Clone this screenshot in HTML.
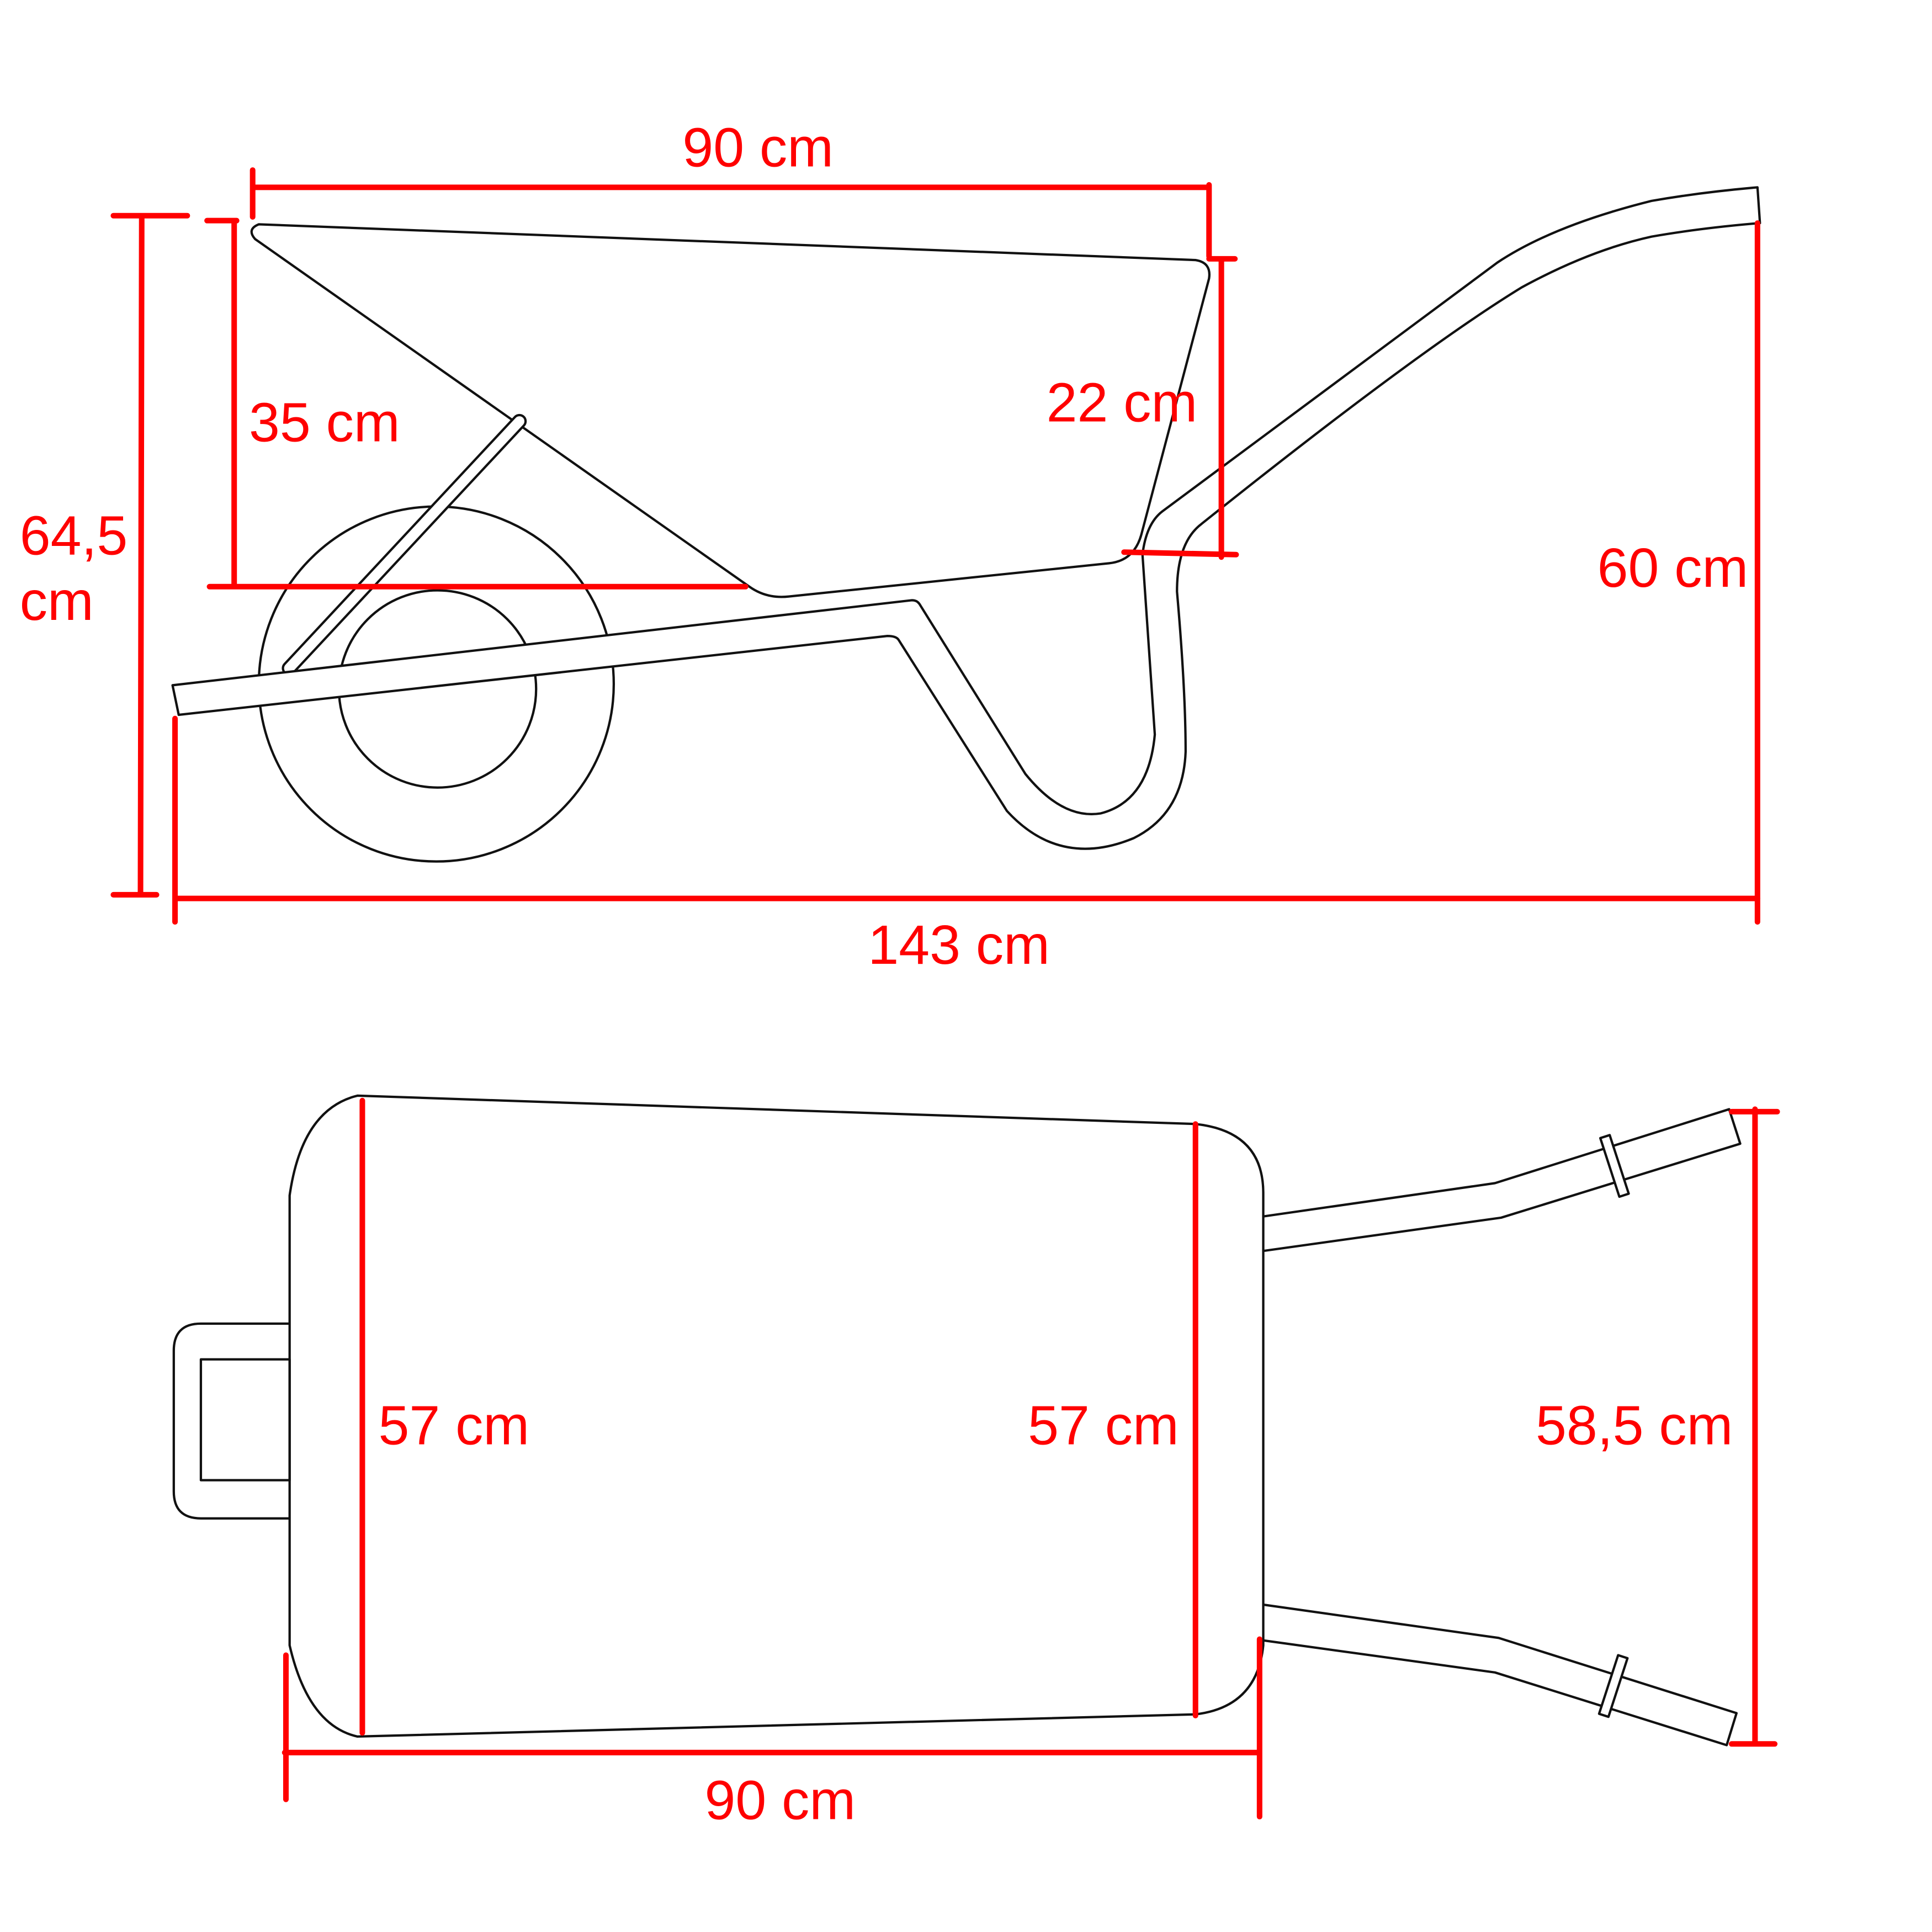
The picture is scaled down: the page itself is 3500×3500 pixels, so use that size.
<!DOCTYPE html>
<html><head><style>html,body{margin:0;padding:0;background:#fff}svg{display:block}</style></head>
<body>
<svg width="3500" height="3500" viewBox="0 0 1567.6 1567.6" xmlns="http://www.w3.org/2000/svg">
<rect width="1568" height="1568" fill="#fff"/>
<g fill="none" stroke="#111" stroke-width="1.9" stroke-linejoin="round">
  <circle cx="354" cy="555" r="144" fill="#fff"/>
  <circle cx="355" cy="559" r="80" fill="#fff"/>
  <path d="M210,182 L970,211 Q983,213 981,226 L926,434 Q920,455 900,457 L640,484 Q622,486 608,476 L207,194 Q200,186 210,182 Z" fill="#fff"/>
  <g transform="translate(328,442) rotate(-47)"><rect x="-142" y="-5" width="284" height="10" rx="5" fill="#fff"/></g>
  <path d="M140,556 L740,487 Q744,487 746,490 L832,628 Q862,665 893,660 Q932,650 937,596 L927,450 Q930,425 943,415 L1215,213 Q1260,183 1340,163 Q1380,156 1426,152 L1428,181 Q1380,185 1340,192 Q1290,203 1235,233 Q1150,285 975,425 Q955,440 955,480 Q962,560 962,610 Q960,660 920,680 Q860,705 817,658 L729,519 Q727,516 720,516 L145,580 Z" fill="#fff"/>
  <path d="M290,889 L970,912 Q1025,918 1025,968 L1025,1335 Q1020,1385 970,1391 L290,1409 Q250,1400 235,1335 L235,970 Q245,900 290,889 Z"/>
  <path d="M235,1074 L163,1074 Q141,1074 141,1096 L141,1210 Q141,1232 163,1232 L235,1232"/>
  <rect x="163" y="1103" width="72" height="98"/>
  <path d="M1025,987 L1213,960 L1403,900 L1412,928 L1218,988 L1025,1015"/>
  <path d="M1025,1302 L1216,1329 L1409,1390 L1401,1416 L1213,1357 L1025,1331"/>
  <g transform="translate(1310,946) rotate(-18)"><rect x="-4" y="-25" width="8" height="50" fill="#fff"/></g>
  <g transform="translate(1309,1368) rotate(18)"><rect x="-4" y="-25" width="8" height="50" fill="#fff"/></g>
</g>
<g stroke="#f00" stroke-width="4.5" fill="none" stroke-linecap="round">
  <path d="M205,152 L981,152 M205,138 L205,176 M981,150 L981,208"/>
  <path d="M115,175 L114,725 M92,175 L152,175 M92,726 L127,726"/>
  <path d="M190,179 L190,476 M168,179 L192,179 M170,476 L605,476"/>
  <path d="M991,210 L991,452 M981,210 L1002,210 M912,448 L1003,450"/>
  <path d="M1426,181 L1426,748"/>
  <path d="M142,729 L1426,729 M142,583 L142,748"/>
  <path d="M294,893 L294,1406 M970,912 L970,1392"/>
  <path d="M1424,900 L1424,1415 M1405,902 L1442,902 M1405,1415 L1440,1415"/>
  <path d="M231,1422 L1022,1422 M232,1343 L232,1460 M1022,1330 L1022,1474"/>
</g>
<g fill="#f00" font-family="Liberation Sans, sans-serif" font-size="45">
  <text x="615" y="135" text-anchor="middle">90 cm</text>
  <text x="16" y="450">64,5</text>
  <text x="16" y="503">cm</text>
  <text x="202" y="358">35 cm</text>
  <text x="849" y="342">22 cm</text>
  <text x="1296" y="476">60 cm</text>
  <text x="778" y="782" text-anchor="middle">143 cm</text>
  <text x="307" y="1172">57 cm</text>
  <text x="834" y="1172">57 cm</text>
  <text x="1246" y="1172">58,5 cm</text>
  <text x="633" y="1476" text-anchor="middle">90 cm</text>
</g>
</svg>
</body></html>
